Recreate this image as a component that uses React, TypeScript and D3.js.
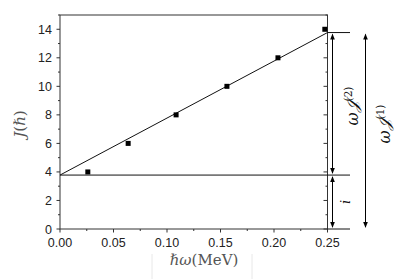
import React from "react";
import * as d3 from "d3";

const omegaValues = [0.026, 0.0637, 0.1085, 0.156, 0.2037, 0.2475];
const jValues = [4, 6, 8, 10, 12, 14];
const xTicks = [0, 0.05, 0.1, 0.15, 0.2, 0.25];
const yTicks = [0, 2, 4, 6, 8, 10, 12, 14];
const fitStart = [0, 3.78];
const fitEnd = [0.25, 13.77];

const W = 399, H = 279;
const M = { left: 60, right: 327.5, top: 15, bottom: 229 };

export default function App() {
  const x = d3.scaleLinear().domain([0, 0.25]).range([M.left, M.right]);
  const y = d3.scaleLinear().domain([0, 15]).range([M.bottom, M.top]);
  const minorX = d3.range(0, 0.2501, 0.025);
  const minorY = d3.range(0, 15.01, 1);
  const line = d3.line<number[]>().x(d => x(d[0])).y(d => y(d[1]));
  const yI = y(fitStart[1]);
  const yTop = y(fitEnd[1]);
  const y0 = y(0);
  const ax = "#333";
  const a1x = 332.5, a2x = 365.5;
  const head = (cx: number, cy: number, dir: number) => {
    const h = 6 * dir, w = 2.3;
    return `M${cx},${cy} L${cx - w},${cy + h} L${cx + w},${cy + h} Z`;
  };
  return (
    <svg width={W} height={H} style={{ position: "absolute", left: 0, top: 0, background: "#fff" }}>
      <rect x={0} y={0} width={W} height={H} fill="#fff" />
      {/* faint box around x label */}
      <line x1={152} x2={152} y1={254} y2={279} stroke="#e8e8e8" />
      <line x1={252} x2={252} y1={254} y2={279} stroke="#e8e8e8" />
      {/* frame */}
      <rect x={M.left} y={M.top} width={M.right - M.left} height={M.bottom - M.top} fill="none" stroke={ax} strokeWidth={1} />
      {/* left ticks */}
      {minorY.map(v => (
        <line key={"ly" + v} x1={M.left} x2={M.left - (v % 2 === 0 ? 3.5 : 2)} y1={y(v)} y2={y(v)} stroke={ax} />
      ))}
      {/* right ticks inward */}
      {minorY.map(v => (
        <line key={"ry" + v} x1={M.right} x2={M.right - (v % 2 === 0 ? 4 : 2)} y1={y(v)} y2={y(v)} stroke={ax} />
      ))}
      {/* bottom ticks */}
      {minorX.map((v, i) => (
        <line key={"bx" + i} x1={x(v)} x2={x(v)} y1={M.bottom} y2={M.bottom + (i % 2 === 0 ? 3.5 : 2)} stroke={ax} />
      ))}
      {yTicks.map(v => (
        <text key={"yt" + v} x={52} y={y(v)} dy="0.36em" textAnchor="end" fontFamily="Liberation Sans, Arial, sans-serif" fontSize={12.5} fill="#222">{v}</text>
      ))}
      {xTicks.map(v => (
        <text key={"xt" + v} x={x(v)} y={247} textAnchor="middle" fontFamily="Liberation Sans, Arial, sans-serif" fontSize={12.5} fill="#222">{v.toFixed(2)}</text>
      ))}
      {/* fit line */}
      <path d={line([fitStart, fitEnd]) || ""} fill="none" stroke="#111" strokeWidth={1} />
      {/* horizontal reference lines */}
      <line x1={M.left} x2={350} y1={yI} y2={yI} stroke="#111" strokeWidth={1} />
      <line x1={M.right} x2={350} y1={yTop} y2={yTop} stroke="#111" strokeWidth={1} />
      <line x1={M.right} x2={350} y1={y0} y2={y0} stroke="#111" strokeWidth={1} />
      {/* data points */}
      {omegaValues.map((v, i) => (
        <rect key={"p" + i} x={x(v) - 2.5} y={y(jValues[i]) - 2.5} width={5} height={5} fill="#000" />
      ))}
      {/* arrows */}
      <line x1={a1x} x2={a1x} y1={yTop + 2} y2={yI - 2} stroke="#000" strokeWidth={1} />
      <path d={head(a1x, yTop + 1, 1)} fill="#000" />
      <path d={head(a1x, yI - 1, -1)} fill="#000" />
      <line x1={a1x} x2={a1x} y1={yI + 2} y2={y0 - 2} stroke="#000" strokeWidth={1} />
      <path d={head(a1x, yI + 1, 1)} fill="#000" />
      <path d={head(a1x, y0 - 1, -1)} fill="#000" />
      <line x1={a2x} x2={a2x} y1={yTop + 2} y2={y0 - 2} stroke="#000" strokeWidth={1} />
      <path d={head(a2x, yTop + 1, 1)} fill="#000" />
      <path d={head(a2x, y0 - 1, -1)} fill="#000" />
      {/* labels */}
      <text transform={`translate(358,106) rotate(-90)`} textAnchor="middle" fontFamily="DejaVu Serif, serif" fontStyle="italic" fontSize={16} fill="#111">
        ω𝒥<tspan dy={-6} fontSize={10.5} fontStyle="normal">(2)</tspan>
      </text>
      <text transform={`translate(390,124) rotate(-90)`} textAnchor="middle" fontFamily="DejaVu Serif, serif" fontStyle="italic" fontSize={16} fill="#111">
        ω𝒥<tspan dy={-6} fontSize={10.5} fontStyle="normal">(1)</tspan>
      </text>
      <text transform={`translate(350,202) rotate(-90)`} textAnchor="middle" fontFamily="DejaVu Serif, serif" fontStyle="italic" fontSize={13} fill="#111">i</text>
      <text transform={`translate(25,124) rotate(-90)`} textAnchor="middle" fontFamily="DejaVu Serif, serif" fontSize={15} fill="#555">
        <tspan fontStyle="italic">J</tspan>(<tspan fontStyle="italic">ℏ</tspan>)
      </text>
      <text x={204} y={265} textAnchor="middle" fontFamily="DejaVu Serif, serif" fontSize={15} fill="#555">
        <tspan fontStyle="italic">ℏω</tspan>(MeV)
      </text>
    </svg>
  );
}
